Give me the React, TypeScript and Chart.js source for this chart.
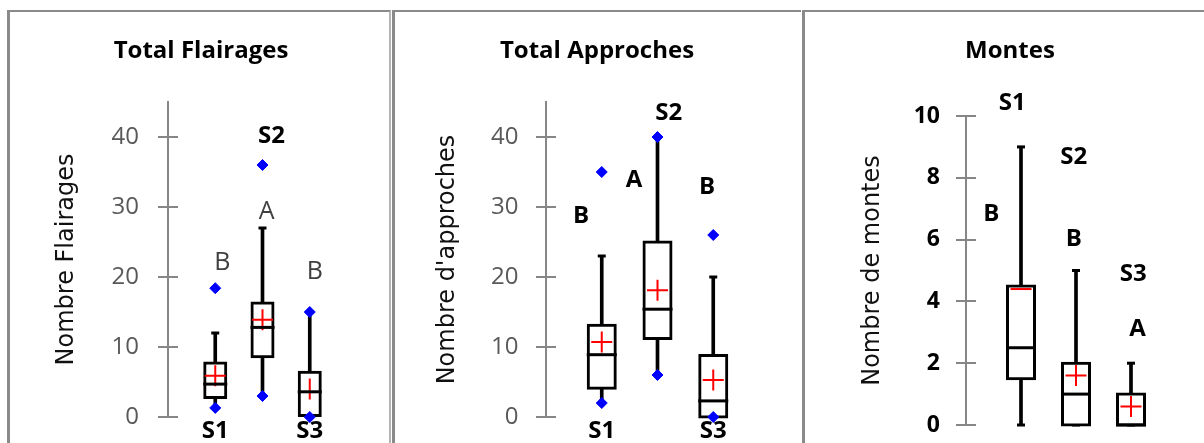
import React, { useEffect, useRef } from 'react';
import { Chart, registerables } from 'chart.js';

Chart.register(...registerables);

const FONT = '"Open Sans", "DejaVu Sans", sans-serif';
const AXIS_FONT = '"DejaVu Sans", "Open Sans", sans-serif';

// Group positions shared by the three box plots
const groupNames = ['S1', 'S2', 'S3'];
const groupX = [1, 2, 3];

// Total Flairages
const flairQ1 = [2.8, 8.6, 0.2];
const flairMedian = [4.7, 12.8, 3.6];
const flairQ3 = [7.7, 16.3, 6.4];
const flairWhiskerLow = [1.3, 3, 0];
const flairWhiskerHigh = [12, 27, 15];
const flairMean = [5.9, 13.9, 4.0];
const flairMin = [1.3, 3, 0];
const flairMax = [18.4, 36, 15];
const flairTicks = [0, 10, 20, 30, 40];
const flairLetters = ['B', 'A', 'B'];
const flairLetterX = [1.15, 2.09, 3.11];
const flairLetterY = [22.0, 29.3, 20.8];
const flairNameX = [1, 2.19, 3];
const flairNameY = [-2.0, 40.1, -2.0];

// Total Approches
const approQ1 = [4.1, 11.2, 0];
const approMedian = [8.9, 15.4, 2.3];
const approQ3 = [13.1, 25, 8.8];
const approWhiskerLow = [2, 6, 0];
const approWhiskerHigh = [23, 40, 20];
const approMean = [10.7, 18.1, 5.3];
const approMin = [2, 6, 0];
const approMax = [35, 40, 26];
const approTicks = [0, 10, 20, 30, 40];
const approLetters = ['B', 'A', 'B'];
const approLetterX = [0.63, 1.58, 2.89];
const approLetterY = [28.7, 33.9, 32.8];
const approNameX = [1, 2.2, 3];
const approNameY = [-2.0, 43.4, -2.0];

// Montes
const montQ1 = [1.5, 0, 0];
const montMedian = [2.5, 1, 0];
const montQ3 = [4.5, 2, 1];
const montWhiskerLow = [0, 0, 0];
const montWhiskerHigh = [9, 5, 2];
const montMean = [4.4, 1.6, 0.6];
const montTicks = [0, 2, 4, 6, 8, 10];
const montLetters = ['B', 'B', 'A'];
const montLetterX = [0.46, 1.96, 3.12];
const montLetterY = [6.81, 6.03, 3.09];
const montNameX = [0.84, 1.96, 3.04];
const montNameY = [10.41, 8.68, 4.89];

const panels: any[] = [
  {
    title: 'Total Flairages',
    yTitle: 'Nombre Flairages',
    q1: flairQ1, median: flairMedian, q3: flairQ3,
    wLow: flairWhiskerLow, wHigh: flairWhiskerHigh, mean: flairMean,
    min: flairMin, max: flairMax, ticks: flairTicks, yMax: 45,
    meanStyle: ['cross', 'cross', 'line'], meanRotation: [0, 0, 90],
    letters: flairLetters, letterX: flairLetterX, letterY: flairLetterY,
    nameX: flairNameX, nameY: flairNameY,
    box: { left: 7, width: 379, rightBorder: '2px solid #b4b4b4' },
    padL: 35, padR: 32, padB: 26, yWidth: 123, titleTop: 24.6, titleBottom: 36.6,
    yTitlePad: 7.6, tickPad: 29, boxWidth: 24,
    tickFont: { family: FONT, size: 24 }, tickColor: '#595959',
    letterFont: `25px ${FONT}`, letterColor: '#404040',
  },
  {
    title: 'Total Approches',
    yTitle: "Nombre d'approches",
    q1: approQ1, median: approMedian, q3: approQ3,
    wLow: approWhiskerLow, wHigh: approWhiskerHigh, mean: approMean,
    min: approMin, max: approMax, ticks: approTicks, yMax: 45,
    meanStyle: ['cross', 'cross', 'cross'], meanRotation: [0, 0, 0],
    letters: approLetters, letterX: approLetterX, letterY: approLetterY,
    nameX: approNameX, nameY: approNameY,
    box: { left: 392, width: 406, rightBorder: 'none' },
    padL: 30, padR: 32, padB: 26, yWidth: 121, titleTop: 24.6, titleBottom: 36.6,
    yTitlePad: 8.6, tickPad: 27.5, boxWidth: 30,
    tickFont: { family: FONT, size: 24 }, tickColor: '#595959',
    letterFont: `bold 24px ${FONT}`, letterColor: '#000',
  },
  {
    title: 'Montes',
    yTitle: 'Nombre de montes',
    q1: montQ1, median: montMedian, q3: montQ3,
    wLow: montWhiskerLow, wHigh: montWhiskerHigh, mean: montMean,
    min: null, max: null, ticks: montTicks, yMax: 10,
    meanStyle: ['line', 'cross', 'cross'], meanRotation: [0, 0, 0],
    letters: montLetters, letterX: montLetterX, letterY: montLetterY,
    nameX: montNameX, nameY: montNameY,
    box: { left: 802, width: 399, rightBorder: 'none' },
    padL: 16, padR: 5, padB: 10, yWidth: 145, titleTop: 24.6, titleBottom: 50.6,
    yTitlePad: 37, tickPad: 26, boxWidth: 30,
    tickFont: { family: FONT, size: 23, weight: 'bold' }, tickColor: '#000',
    letterFont: `bold 24px ${FONT}`, letterColor: '#000',
  },
];

// Tick marks that cross the y axis line on both sides
const crossTicks = {
  id: 'crossTicks',
  afterDraw(chart: any) {
    const { ctx, chartArea, scales } = chart;
    const y = scales.y;
    ctx.save();
    ctx.strokeStyle = '#868686';
    ctx.lineWidth = 2;
    y.ticks.forEach((t: any) => {
      const py = Math.round(y.getPixelForValue(t.value));
      ctx.beginPath();
      ctx.moveTo(chartArea.left - 10, py);
      ctx.lineTo(chartArea.left + 10, py);
      ctx.stroke();
    });
    ctx.restore();
  },
};

// Group names and significance letters placed in data space
function makeLabels(p: any) {
  return {
    id: 'groupLabels',
    afterDraw(chart: any) {
      const { ctx, scales } = chart;
      const { x, y } = scales;
      ctx.save();
      ctx.textAlign = 'center';
      ctx.textBaseline = 'middle';
      ctx.font = p.letterFont;
      ctx.fillStyle = p.letterColor;
      p.letters.forEach((txt: string, i: number) => {
        ctx.fillText(txt, x.getPixelForValue(p.letterX[i]), y.getPixelForValue(p.letterY[i]));
      });
      ctx.font = `bold 24px ${FONT}`;
      ctx.fillStyle = '#000';
      groupNames.forEach((txt, i) => {
        ctx.fillText(txt, x.getPixelForValue(p.nameX[i]), y.getPixelForValue(p.nameY[i]));
      });
      ctx.restore();
    },
  };
}

function buildDatasets(p: any) {
  const pts = (ys: number[]) => groupX.map((x, i) => ({ x, y: ys[i] }));
  const ds: any[] = [
    {
      type: 'bar',
      data: groupX.map((x, i) => ({ x, y: [p.wLow[i], p.wHigh[i]] })),
      backgroundColor: '#000',
      borderWidth: 0,
      barThickness: 3,
      grouped: false,
      clip: false,
      order: 6,
    },
    {
      type: 'scatter',
      data: [...pts(p.wLow), ...pts(p.wHigh)],
      pointStyle: 'line',
      pointRadius: 4,
      pointBorderColor: '#000',
      pointBorderWidth: 3,
      clip: false,
      order: 5,
    },
    {
      type: 'bar',
      data: groupX.map((x, i) => ({ x, y: [p.q1[i], p.q3[i]] })),
      backgroundColor: '#fff',
      borderColor: '#000',
      borderWidth: 3,
      borderSkipped: false,
      barThickness: p.boxWidth - 3,
      inflateAmount: 1.5,
      grouped: false,
      clip: false,
      order: 4,
    },
    {
      type: 'scatter',
      data: pts(p.mean),
      pointStyle: p.meanStyle,
      pointRotation: p.meanRotation,
      pointRadius: 10.5,
      pointBorderColor: '#ff0000',
      pointBorderWidth: 2,
      clip: false,
      order: 3,
    },
    {
      type: 'scatter',
      data: pts(p.median),
      pointStyle: 'line',
      pointRadius: p.boxWidth / 2,
      pointBorderColor: '#000',
      pointBorderWidth: 3,
      clip: false,
      order: 2,
    },
  ];
  if (p.min) {
    ds.push({
      type: 'scatter',
      data: [...pts(p.min), ...pts(p.max)],
      pointStyle: 'rectRot',
      pointRadius: 5.5,
      pointBackgroundColor: '#0000ff',
      pointBorderColor: '#0000ff',
      pointBorderWidth: 1,
      clip: false,
      order: 1,
    });
  }
  return ds;
}

function buildConfig(p: any): any {
  return {
    type: 'bar',
    data: { datasets: buildDatasets(p) },
    options: {
      responsive: false,
      animation: false,
      events: [],
      layout: { padding: { left: p.padL, right: p.padR, top: 0, bottom: p.padB } },
      plugins: {
        legend: { display: false },
        tooltip: { enabled: false },
        title: {
          display: true,
          text: p.title,
          color: '#000',
          font: { family: FONT, size: 24, weight: 'bold' },
          padding: { top: p.titleTop, bottom: p.titleBottom },
        },
      },
      scales: {
        x: { type: 'linear', display: false, min: 0, max: 4, offset: false },
        y: {
          type: 'linear',
          min: 0,
          max: p.yMax,
          afterBuildTicks: (s: any) => {
            s.ticks = p.ticks.map((v: number) => ({ value: v }));
          },
          afterFit: (s: any) => {
            s.width = p.yWidth;
            s.paddingTop = 0;
            s.paddingBottom = 0;
          },
          grid: { display: false, drawTicks: false },
          border: { display: true, color: '#868686', width: 2 },
          ticks: { padding: p.tickPad, color: p.tickColor, font: p.tickFont },
          title: {
            display: true,
            text: p.yTitle,
            color: '#111',
            font: { family: AXIS_FONT, size: 24 },
            padding: { top: p.yTitlePad, bottom: 0 },
          },
        },
      },
    },
    plugins: [crossTicks, makeLabels(p)],
  };
}

function Panel({ spec }: { spec: any }) {
  const ref = useRef<HTMLCanvasElement>(null);
  useEffect(() => {
    const chart = new Chart(ref.current as HTMLCanvasElement, buildConfig(spec));
    return () => chart.destroy();
  }, [spec]);
  return (
    <div
      style={{
        position: 'absolute',
        left: spec.box.left,
        top: 10,
        width: spec.box.width,
        height: 431,
        borderLeft: '3px solid #8a8a8a',
        borderTop: '2px solid #8a8a8a',
        borderRight: spec.box.rightBorder,
        overflow: 'hidden',
        background: '#fff',
      }}
    >
      <canvas ref={ref} width={spec.box.width} height={431} style={{ display: 'block' }} />
    </div>
  );
}

export default function App() {
  return (
    <div
      style={{
        position: 'absolute',
        left: 0,
        top: 0,
        width: 1204,
        height: 443,
        overflow: 'hidden',
        background: '#fff',
      }}
    >
      {panels.map((p) => (
        <Panel key={p.title} spec={p} />
      ))}
    </div>
  );
}
